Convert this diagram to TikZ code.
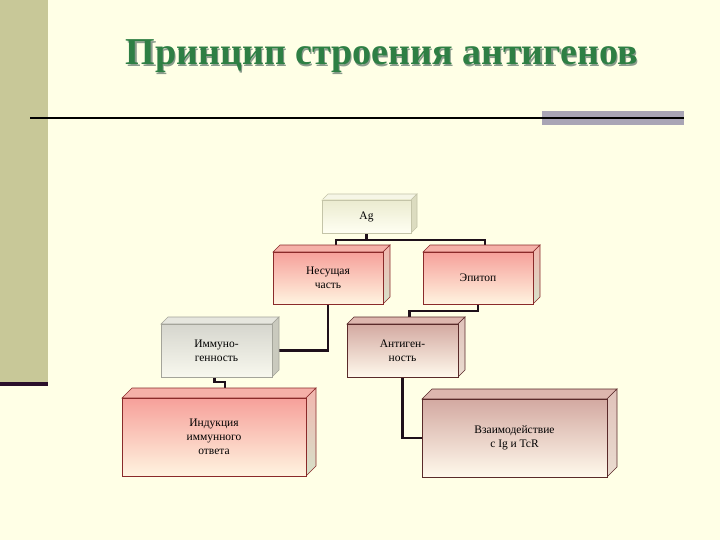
\documentclass[tikz,border=0pt]{standalone}
\usepackage{fontspec}
\setmainfont{Liberation Serif}
\usetikzlibrary{backgrounds,calc}
\definecolor{pagebg}{HTML}{FFFFE6}
\definecolor{barolive}{HTML}{C8C898}
\definecolor{bardark}{HTML}{2A0F2A}
\definecolor{graybar}{HTML}{A9A5B5}
\definecolor{titlegreen}{HTML}{2E7F44}
\definecolor{titleshadow}{HTML}{8A9C8C}
\definecolor{connc}{HTML}{1E101A}
\definecolor{redA}{HTML}{F6A09A}
\definecolor{redB}{HTML}{FFF4E0}
\definecolor{redT}{HTML}{F5B0A8}
\definecolor{redS1}{HTML}{F2B6AE}
\definecolor{redS2}{HTML}{D6E2CA}
\definecolor{redL}{HTML}{8A2A2A}
\definecolor{roseA}{HTML}{D3A9A1}
\definecolor{roseB}{HTML}{FFF9EC}
\definecolor{roseT}{HTML}{DDB6AE}
\definecolor{roseS1}{HTML}{E0C2BA}
\definecolor{roseS2}{HTML}{EADCD0}
\definecolor{roseL}{HTML}{5A2A2A}
\definecolor{begeA}{HTML}{EBEBD0}
\definecolor{begeB}{HTML}{FFFFF2}
\definecolor{begeT}{HTML}{F6F6E6}
\definecolor{begeS}{HTML}{DCDCC0}
\definecolor{begeL}{HTML}{C4C4A8}
\definecolor{grayA}{HTML}{D6D6CE}
\definecolor{grayB}{HTML}{F8F8EE}
\definecolor{grayT}{HTML}{E6E6DE}
\definecolor{grayS}{HTML}{CACABE}
\definecolor{grayL}{HTML}{A4A49A}
\tikzset{
  conn/.style={draw=connc,line width=2.2pt,line join=miter},
  boxtext/.style={align=center,font=\fontsize{11.5}{14}\selectfont,text=black,inner sep=0pt},
  redfront/.style={boxtext,draw=redL,line width=0.6pt,top color=redA,bottom color=redB},
  redtop/.style={draw=redL,line width=0.6pt,fill=redT},
  redside/.style={draw=redL,line width=0.6pt,top color=redS1,bottom color=redS2},
  rosefront/.style={boxtext,draw=roseL,line width=0.6pt,top color=roseA,bottom color=roseB},
  rosetop/.style={draw=roseL,line width=0.6pt,fill=roseT},
  roseside/.style={draw=roseL,line width=0.6pt,top color=roseS1,bottom color=roseS2},
  begefront/.style={boxtext,draw=begeL,line width=0.6pt,top color=begeA,bottom color=begeB},
  begetop/.style={draw=begeL,line width=0.6pt,fill=begeT},
  begeside/.style={draw=begeL,line width=0.6pt,fill=begeS},
  grayfront/.style={boxtext,draw=grayL,line width=0.6pt,top color=grayA,bottom color=grayB},
  graytop/.style={draw=grayL,line width=0.6pt,fill=grayT},
  grayside/.style={draw=grayL,line width=0.6pt,fill=grayS},
}
% #1 name #2 x1 #3 y1 #4 x2 #5 y2 #6 depth #7 style prefix #8 text
\newcommand{\tdbox}[8]{%
  \path[#7top] (#2,#3) -- ++(#6,-#6) -- ++({#4-#2},0) -- ++(-#6,#6) -- cycle;
  \path[#7side] (#4,#3) -- ++(#6,-#6) -- ++(0,{#5-#3}) -- ++(-#6,#6) -- cycle;
  \node[#7front,minimum width={#4-#2},minimum height={#5-#3}] (#1) at ({(#2+#4)/2},{(#3+#5)/2}) {#8};
}
\begin{document}
\begin{tikzpicture}[x=1pt,y=-1pt]
\useasboundingbox (0,0) rectangle (720,540);
\begin{scope}[on background layer]
  \fill[pagebg] (0,0) rectangle (720,540);
  \fill[barolive] (0,0) rectangle (48,382);
  \fill[bardark] (0,382) rectangle (48,385.5);
  \fill[graybar] (542,111) rectangle (684,125.5);
  \draw[line width=2pt,black] (30,118) -- (684,118);
\end{scope}
% title
\node[anchor=base,font=\bfseries\fontsize{38}{40}\selectfont,text=titleshadow,inner sep=0pt] (titleshadow) at (383.2,66.2) {Принцип строения антигенов};
\node[anchor=base,font=\bfseries\fontsize{38}{40}\selectfont,text=titlegreen,inner sep=0pt] (title) at (382,65) {Принцип строения антигенов};
% boxes
\tdbox{ag}{322}{200}{411}{233}{6}{bege}{Ag}
\tdbox{nes}{273}{252}{383}{304}{7}{red}{Несущая\\часть}
\tdbox{epi}{423}{252}{533}{304}{7}{red}{Эпитоп}
\tdbox{imm}{161}{324}{272}{377}{7}{gray}{Иммуно-\\генность}
\tdbox{ant}{347}{324}{458}{377}{7}{rose}{Антиген-\\ность}
\tdbox{ind}{122}{398}{306}{476}{10}{red}{Индукция\\иммунного\\ответа}
\tdbox{vza}{422}{399}{607}{477}{10}{rose}{Взаимодействие\\с Ig и TcR}
% connectors
\begin{scope}[on background layer]
  \draw[conn] (ag.south) -- ++(0,7) -| ([xshift=8pt]nes.north);
  \draw[conn] (ag.south) -- ++(0,7) -| ([xshift=7pt]epi.north);
  \draw[conn] (nes.south) |- (imm.east);
  \draw[conn] (epi.south) -- ++(0,7) -| ([xshift=7pt]ant.north);
  \draw[conn] ([xshift=-2pt]imm.south) -- ++(0,5) -| ([xshift=11pt]ind.north);
  \draw[conn] (ant.south) |- (vza.west);
\end{scope}
\end{tikzpicture}
\end{document}
